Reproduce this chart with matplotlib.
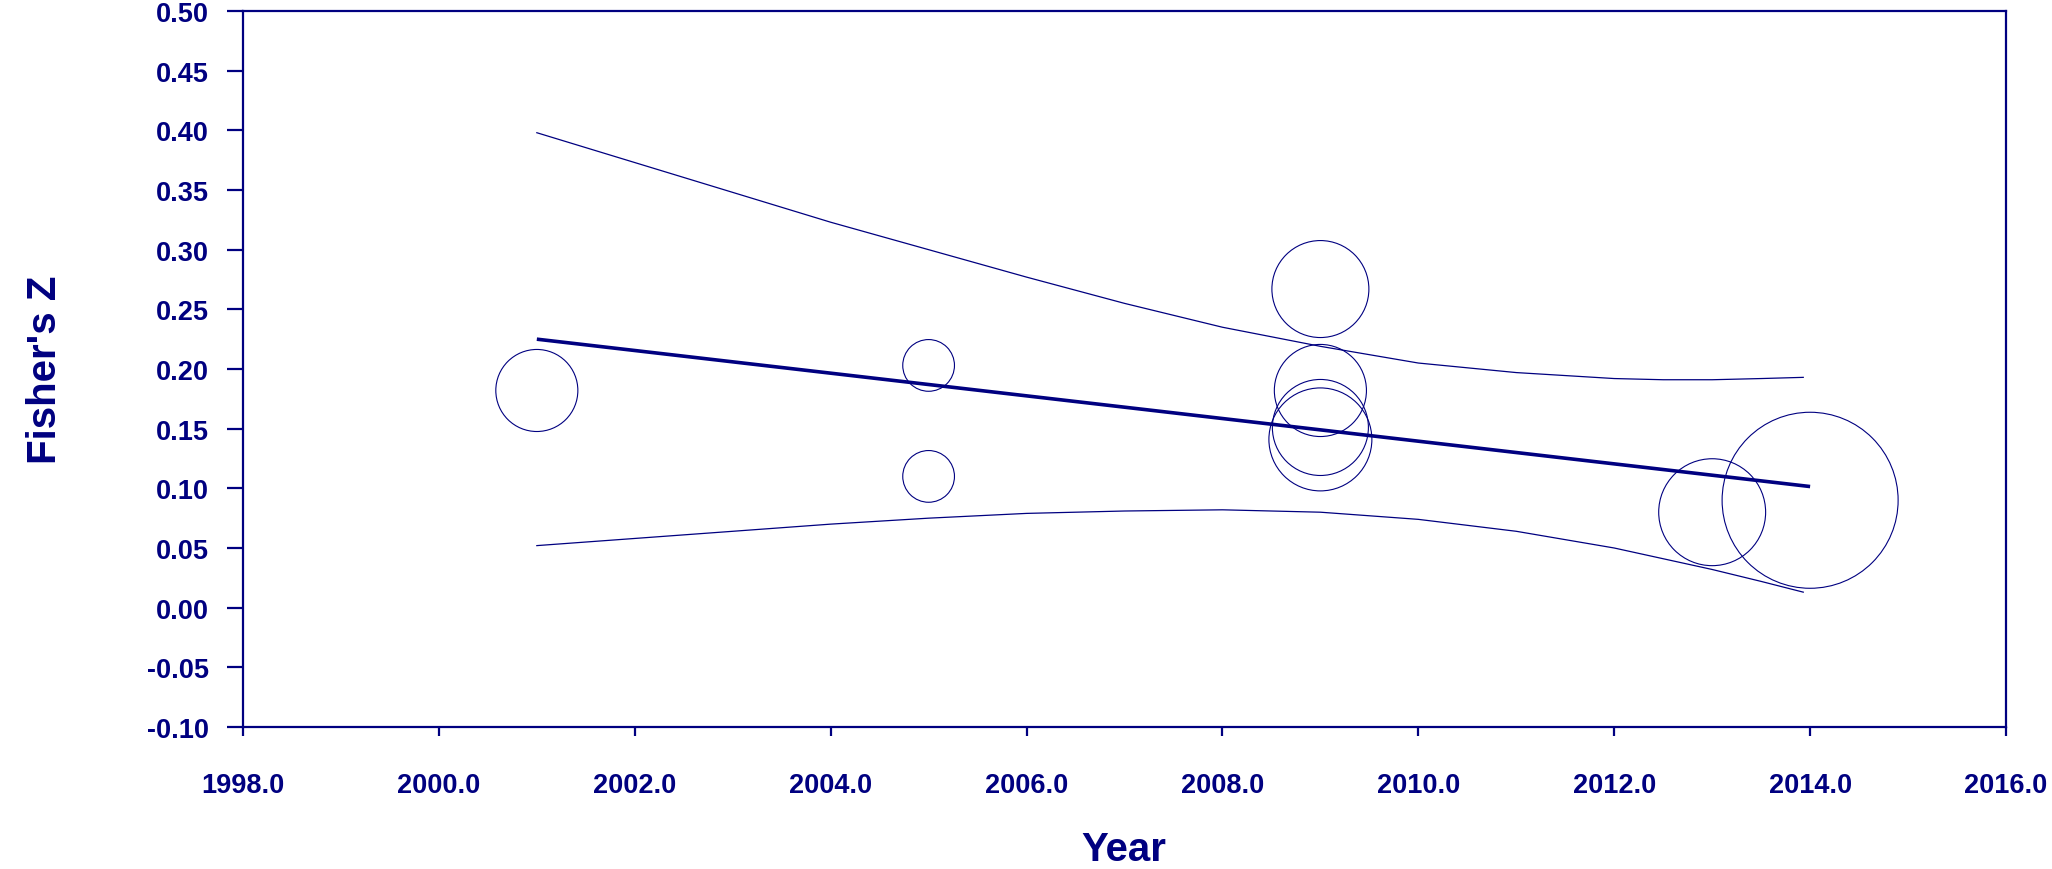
import matplotlib
matplotlib.use("Agg")
import matplotlib.pyplot as plt
import numpy as np

navy = "#000080"

# studies: year, Fisher's Z, relative weight (%)
years = [2001, 2005, 2005, 2009, 2009, 2009, 2009, 2013, 2014]
fisher_z = [0.182, 0.203, 0.110, 0.267, 0.182, 0.151, 0.141, 0.080, 0.090]
weights = [7.3, 2.9, 2.9, 10.2, 9.2, 10.0, 11.5, 12.4, 33.6]

# fitted regression line
reg_x = [2001.0, 2014.0]
reg_y = [0.225, 0.1015]

# confidence limits
band_x = [2001.0, 2002.0, 2003.0, 2004.0, 2005.0, 2006.0, 2007.0, 2008.0, 2009.0,
          2010.0, 2011.0, 2012.0, 2012.5, 2013.0, 2013.5, 2013.93]
upper_y = [0.398, 0.373, 0.348, 0.323, 0.300, 0.277, 0.255, 0.235, 0.219,
           0.205, 0.197, 0.192, 0.191, 0.191, 0.192, 0.193]
lower_y = [0.052, 0.058, 0.064, 0.070, 0.075, 0.079, 0.081, 0.082, 0.080,
           0.074, 0.064, 0.050, 0.041, 0.032, 0.022, 0.013]

xticks = np.arange(1998, 2017, 2)
yticks = np.arange(-0.10, 0.501, 0.05)

plt.rcParams["font.family"] = ["Liberation Sans", "DejaVu Sans"]
plt.rcParams["font.weight"] = "bold"

fig = plt.figure(figsize=(20.52, 8.70), dpi=100)
ax = fig.add_axes([243 / 2052, 1 - 728 / 870, (2006 - 243) / 2052, (728 - 12) / 870])

ax.plot(band_x, upper_y, color=navy, lw=0.9)
ax.plot(band_x, lower_y, color=navy, lw=0.9)
ax.plot(reg_x, reg_y, color=navy, lw=2.6, solid_capstyle="butt")

sizes = [w * 478 for w in weights]
ax.scatter(years, fisher_z, s=sizes, facecolors="none", edgecolors=navy, linewidths=0.8, zorder=3)

ax.set_xlim(1998, 2016)
ax.set_ylim(-0.10, 0.50)
ax.set_xticks(xticks)
ax.set_yticks(yticks)
ax.set_xticklabels([f"{x:.1f}" for x in xticks])
ax.set_yticklabels([f"{y:.2f}" for y in yticks])

for sp in ax.spines.values():
    sp.set_color(navy)
    sp.set_linewidth(1.6)

ax.tick_params(axis="y", direction="out", length=11.5, width=1.6, color=navy,
               labelcolor=navy, labelsize=19.5, pad=13)
ax.tick_params(axis="x", direction="out", length=6.5, width=1.6, color=navy,
               labelcolor=navy, labelsize=19.5, pad=26)

fig.text(1124 / 2052, 1 - 850 / 870, "Year", color=navy, fontsize=29, fontweight="bold",
         ha="center", va="center")
fig.text(45 / 2052, 1 - 370 / 870, "Fisher's Z", color=navy, fontsize=29, fontweight="bold",
         ha="center", va="center", rotation=90)

fig.savefig("out.png", dpi=100)
